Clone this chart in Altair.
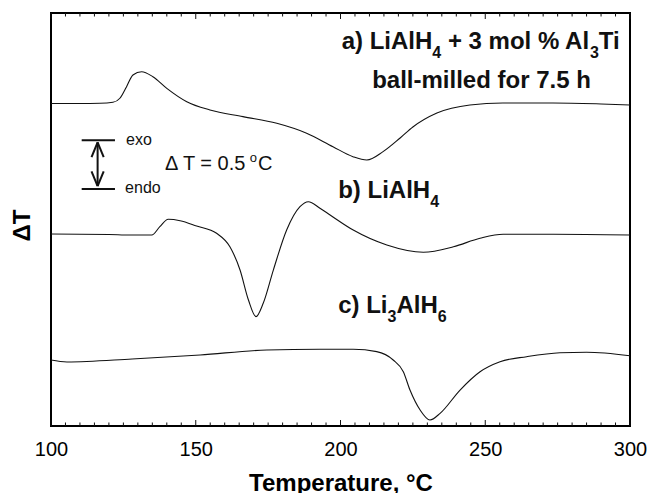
import altair as alt
import pandas as pd

# ---- DSC traces: temperature (°C) and ΔT (°C, curves offset vertically) ----
temp_a = [100, 110, 116.9, 121.4, 123.8, 126.1, 128.3, 131.3, 135.2, 140.0, 146.9,
          154.9, 166.3, 178.0, 188.3, 197.4, 204.3, 209.1, 214.7, 220.6, 225.0,
          233.3, 244.7, 256.1, 273.4, 290.0, 300]
dt_a = [3.280, 3.280, 3.282, 3.292, 3.333, 3.451, 3.570, 3.603, 3.552, 3.434, 3.298,
        3.214, 3.146, 3.078, 2.977, 2.840, 2.739, 2.705, 2.790, 2.929, 3.041,
        3.183, 3.265, 3.285, 3.285, 3.275, 3.265]

temp_b = [100, 120, 127.3, 134.8, 137.6, 140.5, 144.6, 150.3, 157.2, 161.8, 165.3,
          168.2, 170.8, 173.3, 176.8, 181.4, 186.0, 188.9, 192.9, 196.4, 204.4,
          216.0, 228.6, 239.0, 248.2, 256.2, 273.5, 300]
dt_b = [1.953, 1.948, 1.942, 1.942, 2.027, 2.102, 2.088, 2.034, 1.960, 1.823, 1.586,
        1.281, 1.112, 1.248, 1.586, 1.993, 2.230, 2.281, 2.214, 2.146, 1.993,
        1.841, 1.767, 1.823, 1.909, 1.950, 1.950, 1.942]

temp_c = [100, 105.5, 128.0, 151.5, 174.5, 192.9, 204.4, 212.5, 218.2, 221.7, 224.0,
          227.5, 230.9, 234.4, 241.3, 248.2, 255.1, 264.3, 275.8, 285.0, 300]
dt_c = [0.671, 0.651, 0.681, 0.722, 0.773, 0.780, 0.780, 0.756, 0.671, 0.552, 0.366,
        0.163, 0.061, 0.129, 0.366, 0.552, 0.654, 0.705, 0.745, 0.750, 0.715]

x_ticks = [100, 150, 200, 250, 300]

# ---- geometry of the plot area ----
X0, X1 = 100, 300
Y0, Y1 = 0, 4.2
W, H = 579, 413
PX_PER_C = W / (X1 - X0)
FONT = "Liberation Sans"
INK = "#111111"

x_scale = alt.Scale(domain=[X0, X1], nice=False, zero=False)
y_scale = alt.Scale(domain=[Y0, Y1], nice=False, zero=False)

# Arial / Liberation Sans advance widths (per 1000 em)
BOLD_W = {" ": 278, "%": 889, ")": 333, "+": 584, "-": 333, ".": 278,
          "0": 556, "1": 556, "2": 556, "3": 556, "4": 556, "5": 556, "6": 556, "7": 556,
          "A": 722, "H": 722, "L": 611, "T": 611, "a": 556, "b": 611, "c": 556,
          "d": 611, "e": 556, "f": 333, "h": 611, "i": 278, "l": 278, "m": 889,
          "o": 611, "r": 389}
REG_W = {" ": 278, "Δ": 668, "T": 611, "=": 584, "0": 556, ".": 278, "5": 556,
         "o": 556, "C": 722}


def width(s, size, table):
    return sum(table[ch] for ch in s) * size / 1000.0


# ---- curves ----
frames = []
for name, t, v in (("a", temp_a, dt_a), ("b", temp_b, dt_b), ("c", temp_c, dt_c)):
    frames.append(pd.DataFrame({"T": t, "dT": v, "trace": name}))
curves_df = pd.concat(frames, ignore_index=True)

curves = alt.Chart(curves_df).mark_line(
    color=INK, strokeWidth=1.1, interpolate="monotone"
).encode(
    x=alt.X("T:Q", scale=x_scale,
            axis=alt.Axis(values=x_ticks, ticks=False, domain=False, grid=False,
                          labelFont=FONT, labelFontSize=20, labelColor="black",
                          labelPadding=13, labelFlush=False,
                          title="Temperature, °C", titleFont=FONT, titleFontSize=24,
                          titleFontWeight="bold", titleColor="black",
                          titleBaseline="alphabetic", titleY=64)),
    y=alt.Y("dT:Q", scale=y_scale,
            axis=alt.Axis(labels=False, ticks=False, domain=False, grid=False,
                          title="ΔT", titleFont=FONT, titleFontSize=24,
                          titleFontWeight="bold", titleColor="black",
                          titleAngle=270, titleAlign="center", titleBaseline="middle",
                          titleX=-28.5, titleY=212)),
    detail="trace:N",
)

# ---- inward ticks on bottom and top edges ----
tick_rows = []
for t in range(100, 301, 5):
    major = (t % 50 == 0)
    tick_rows.append({"T": t, "len": 6 if major else 3.5})
ticks_df = pd.DataFrame(tick_rows)

bottom_ticks = alt.Chart(ticks_df).mark_rule(color=INK, strokeWidth=1).encode(
    x=alt.X("T:Q", scale=x_scale),
    y=alt.value(H),
    y2=alt.Y2(expr=f"{H} - datum.len") if False else alt.value(H),
)
# rules need a computed end point: use calculate
bottom_ticks = alt.Chart(ticks_df).transform_calculate(
    y0=f"{H}", y1=f"{H} - datum.len"
).mark_rule(color=INK, strokeWidth=1).encode(
    x=alt.X("T:Q", scale=x_scale),
    y=alt.Y("y0:Q", scale=None),
    y2="y1:Q",
)
top_ticks = alt.Chart(ticks_df).transform_calculate(
    y0="0", y1="datum.len"
).mark_rule(color=INK, strokeWidth=1).encode(
    x=alt.X("T:Q", scale=x_scale),
    y=alt.Y("y0:Q", scale=None),
    y2="y1:Q",
)

# ---- ΔT scale bar (exo / endo) ----
bar_T0, bar_T1, bar_Tc = 110.6, 122.1, 116.1
bar_top, bar_bot = 2.905, 2.410
arm_dx, arm_dy = 2.1, 0.15
bar_segments = pd.DataFrame([
    {"x": bar_T0, "x2": bar_T1, "y": bar_top, "y2": bar_top},
    {"x": bar_T0, "x2": bar_T1, "y": bar_bot, "y2": bar_bot},
    {"x": bar_Tc, "x2": bar_Tc, "y": bar_top - 0.02, "y2": bar_bot + 0.03},
    {"x": bar_Tc, "x2": bar_Tc - arm_dx, "y": bar_top - 0.02, "y2": bar_top - 0.02 - arm_dy},
    {"x": bar_Tc, "x2": bar_Tc + arm_dx, "y": bar_top - 0.02, "y2": bar_top - 0.02 - arm_dy},
    {"x": bar_Tc, "x2": bar_Tc - arm_dx, "y": bar_bot + 0.03, "y2": bar_bot + 0.03 + arm_dy},
    {"x": bar_Tc, "x2": bar_Tc + arm_dx, "y": bar_bot + 0.03, "y2": bar_bot + 0.03 + arm_dy},
])
scale_bar = alt.Chart(bar_segments).mark_rule(color=INK, strokeWidth=2).encode(
    x=alt.X("x:Q", scale=x_scale), x2="x2:Q",
    y=alt.Y("y:Q", scale=y_scale), y2="y2:Q",
)

small_df = pd.DataFrame([
    {"x": 125.9, "y": bar_top, "text": "exo"},
    {"x": 125.6, "y": bar_bot + 0.01, "text": "endo"},
])
small_text = alt.Chart(small_df).mark_text(
    font=FONT, fontSize=16, align="left", baseline="middle", color=INK
).encode(x=alt.X("x:Q", scale=x_scale), y=alt.Y("y:Q", scale=y_scale), text="text:N")

# "Δ T = 0.5 °C" with a raised small o
dt_left, dt_base = 139.4, 2.60
main_str = "Δ T = 0.5"
o_left = dt_left + (width(main_str, 20, REG_W) + 3) / PX_PER_C
c_left = o_left + (width("o", 13, REG_W) + 1) / PX_PER_C
dt_main = alt.Chart(pd.DataFrame([
    {"x": dt_left, "y": dt_base, "text": main_str},
    {"x": c_left, "y": dt_base, "text": "C"},
])).mark_text(font=FONT, fontSize=20, align="left", baseline="alphabetic", color=INK).encode(
    x=alt.X("x:Q", scale=x_scale), y=alt.Y("y:Q", scale=y_scale), text="text:N")
dt_sup = alt.Chart(pd.DataFrame([{"x": o_left, "y": dt_base, "text": "o"}])).mark_text(
    font=FONT, fontSize=13, align="left", baseline="alphabetic", dy=-8, color=INK
).encode(x=alt.X("x:Q", scale=x_scale), y=alt.Y("y:Q", scale=y_scale), text="text:N")

# ---- trace labels with subscripts ----
MAIN_SIZE, SUB_SIZE, SUB_DROP = 24, 16, 9
label_specs = [
    (200.4, 3.834, [("a) LiAlH", 0), ("4", 1), (" + 3 mol % Al", 0), ("3", 1), ("Ti", 0)]),
    (199.2, 2.316, [("b) LiAlH", 0), ("4", 1)]),
    (199.2, 1.146, [("c) Li", 0), ("3", 1), ("AlH", 0), ("6", 1)]),
]
seg_rows = []
for x_left, base, parts in label_specs:
    off = 0.0
    for s, sub in parts:
        size = SUB_SIZE if sub else MAIN_SIZE
        stripped = s.lstrip()
        lead = width(s[:len(s) - len(stripped)], size, BOLD_W)
        seg_rows.append({"x": x_left + (off + lead) / PX_PER_C, "y": base,
                         "text": stripped.rstrip(), "sub": sub})
        off += width(s, size, BOLD_W)
seg_df = pd.DataFrame(seg_rows)

label_main = alt.Chart(seg_df).transform_filter("datum.sub == 0").mark_text(
    font=FONT, fontSize=MAIN_SIZE, fontWeight="bold", align="left",
    baseline="alphabetic", color=INK
).encode(x=alt.X("x:Q", scale=x_scale), y=alt.Y("y:Q", scale=y_scale), text="text:N")
label_sub = alt.Chart(seg_df).transform_filter("datum.sub == 1").mark_text(
    font=FONT, fontSize=SUB_SIZE, fontWeight="bold", align="left",
    baseline="alphabetic", dy=SUB_DROP, color=INK
).encode(x=alt.X("x:Q", scale=x_scale), y=alt.Y("y:Q", scale=y_scale), text="text:N")

label_a2 = alt.Chart(pd.DataFrame([{"x": 248.7, "y": 3.434, "text": "ball-milled for 7.5 h"}])).mark_text(
    font=FONT, fontSize=MAIN_SIZE, fontWeight="bold", align="center",
    baseline="alphabetic", color=INK
).encode(x=alt.X("x:Q", scale=x_scale), y=alt.Y("y:Q", scale=y_scale), text="text:N")

chart = alt.layer(
    curves, bottom_ticks, top_ticks, scale_bar, small_text, dt_main, dt_sup,
    label_main, label_sub, label_a2
).properties(
    width=W, height=H,
    autosize=alt.AutoSizeParams(type="none"),
    padding={"left": 51, "top": 13, "right": 19, "bottom": 67},
    background="white",
).configure_view(
    stroke="black", strokeWidth=2
)

chart.save("out.html", embed_options={"renderer": "svg", "actions": False})
